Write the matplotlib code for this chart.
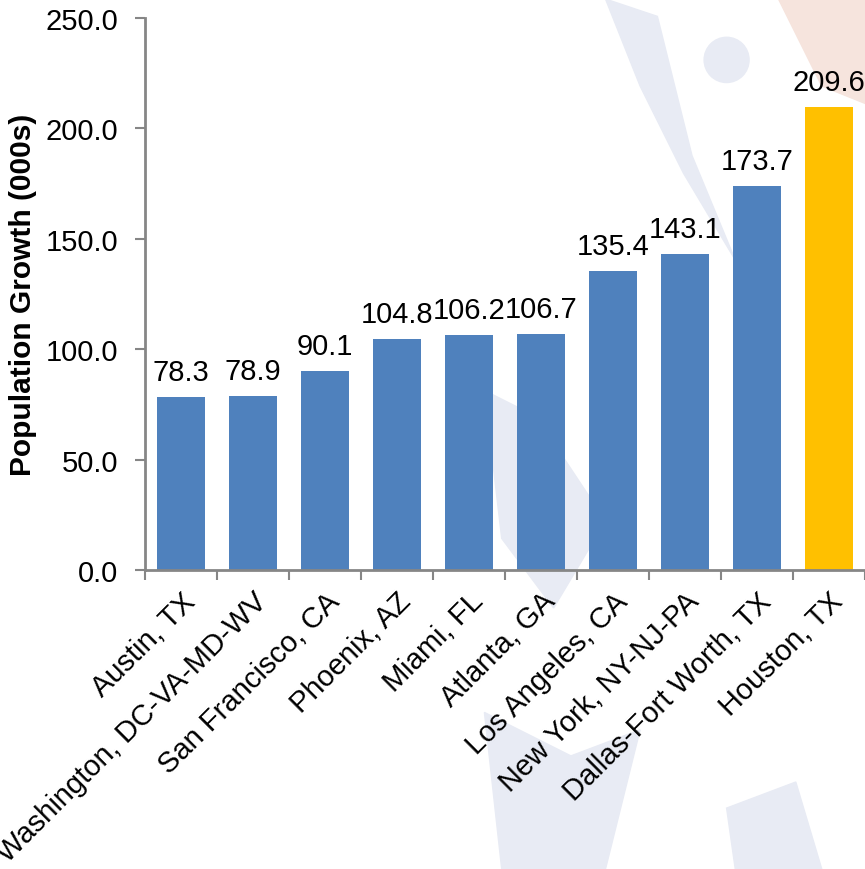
import matplotlib

matplotlib.use("Agg")
import matplotlib.pyplot as plt
from matplotlib.patches import Circle, Polygon
import numpy as np

plt.rcParams["font.family"] = ["Liberation Sans", "DejaVu Sans"]

metros = [
    "Austin, TX",
    "Washington, DC-VA-MD-WV",
    "San Francisco, CA",
    "Phoenix, AZ",
    "Miami, FL",
    "Atlanta, GA",
    "Los Angeles, CA",
    "New York, NY-NJ-PA",
    "Dallas-Fort Worth, TX",
    "Houston, TX",
]
growth = [78.3, 78.9, 90.1, 104.8, 106.2, 106.7, 135.4, 143.1, 173.7, 209.6]
highlight = "Houston, TX"

BLUE = "#4F81BD"
GOLD = "#FFC000"
GREY = "#868686"

fig = plt.figure(figsize=(8.65, 8.70), dpi=100)

# faint watermark logo behind the chart (figure coords)
wm = "#e8ebf4"
shapes = [
    [(0.70, 1.0), (0.74, 0.90), (0.79, 0.80), (0.85, 0.70), (0.80, 0.82), (0.76, 0.98)],
    [(0.56, 0.55), (0.62, 0.52), (0.70, 0.40), (0.64, 0.30), (0.58, 0.38)],
    [(0.56, 0.18), (0.66, 0.13), (0.74, 0.16), (0.70, 0.00), (0.58, 0.00)],
    [(0.84, 0.07), (0.92, 0.10), (0.95, 0.0), (0.85, 0.0)],
]
for pts in shapes:
    fig.patches.append(Polygon(pts, closed=True, transform=fig.transFigure,
                               color=wm, zorder=-5))
fig.patches.append(Polygon([(0.90, 1.0), (0.95, 0.90), (1.0, 0.88), (1.0, 1.0)],
                           closed=True, transform=fig.transFigure,
                           color="#f6e4dd", zorder=-5))
fig.patches.append(Circle((0.84, 0.93), 0.026, transform=fig.transFigure,
                          color=wm, zorder=-5))

ax = fig.add_axes([0.1676, 0.3437, 0.8324, 0.6345])
ax.set_zorder(2)
ax.patch.set_alpha(0)

x = np.arange(len(metros))
colors = [GOLD if m == highlight else BLUE for m in metros]
bars = ax.bar(x, growth, width=0.66, color=colors, zorder=2)
for b, v in zip(bars, growth):
    ax.text(b.get_x() + b.get_width() / 2, v + 5, f"{v:.1f}",
            ha="center", va="bottom", fontsize=21)

ax.set_xlim(-0.5, len(metros) - 0.5)
ax.set_ylim(0, 250)
ax.set_yticks(np.arange(0, 251, 50))
ax.set_yticklabels([f"{t:.1f}" for t in np.arange(0, 251, 50)], fontsize=21)
ax.set_xticks(x)
ax.set_xticklabels(metros, rotation=45, ha="right", rotation_mode="anchor",
                   fontsize=21)
ax.set_xticks(np.arange(-0.5, len(metros), 1.0), minor=True)
ax.tick_params(axis="x", which="major", length=0, pad=12)
ax.tick_params(axis="x", which="minor", length=7, width=1.5, color=GREY)
ax.tick_params(axis="y", length=7, width=1.5, color=GREY, pad=12)

for side in ("top", "right"):
    ax.spines[side].set_visible(False)
for side in ("left", "bottom"):
    ax.spines[side].set_color(GREY)
    ax.spines[side].set_linewidth(2)

ax.set_ylabel("Population Growth (000s)", fontsize=21.5, fontweight="bold")
ax.yaxis.set_label_coords(-0.150, 0.5)

fig.savefig("out.png", dpi=100)
